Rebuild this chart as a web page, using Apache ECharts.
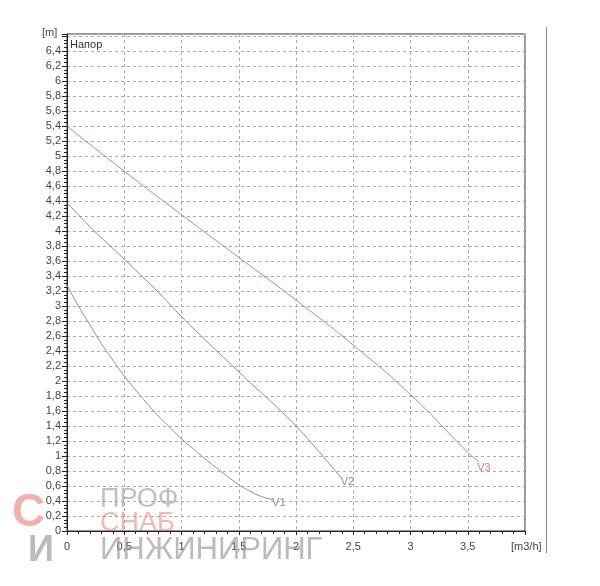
<!DOCTYPE html>
<html>
<head>
<meta charset="utf-8">
<script src="https://cdn.jsdelivr.net/npm/echarts@6/dist/echarts.min.js"></script>
<style>
html,body{margin:0;padding:0;background:#fff;}
#c{width:600px;height:586px;}
</style>
</head>
<body>
<div id="c"></div>
<script>
// Data
const v1X = [0, 0.1, 0.2, 0.3, 0.4, 0.5, 0.6, 0.7, 0.8, 0.9, 1.0, 1.1, 1.2, 1.3, 1.4, 1.5, 1.6, 1.7, 1.8];
const v1Y = [3.28, 3.0, 2.75, 2.5, 2.28, 2.07, 1.88, 1.7, 1.53, 1.38, 1.23, 1.1, 0.97, 0.85, 0.73, 0.62, 0.53, 0.46, 0.42];
const v2X = [0, 0.2, 0.4, 0.6, 0.8, 1.0, 1.2, 1.4, 1.6, 1.8, 2.0, 2.2, 2.4];
const v2Y = [4.38, 4.06, 3.77, 3.48, 3.18, 2.86, 2.56, 2.27, 1.98, 1.7, 1.4, 1.06, 0.7];
const v3X = [0, 0.5, 1.0, 1.5, 2.0, 2.5, 3.0, 3.5, 3.6];
const v3Y = [5.4, 4.8, 4.22, 3.65, 3.08, 2.48, 1.82, 1.05, 0.92];
const seriesNames = ['V1', 'V2', 'V3'];
const xTickLabels = ['0', '0,5', '1', '1,5', '2', '2,5', '3', '3,5'];
const yUnit = '[m]';
const xUnit = '[m3/h]';
const chartTitle = 'Напор';
const watermark = ['ПРОФ', 'СНАБ', 'ИНЖИНИРИНГ'];

const chart = echarts.init(document.getElementById('c'));
const font = 'Liberation Sans, Arial, sans-serif';

function mk(xs, ys, name, color, off) {
  return {
    type: 'line', name: name, smooth: true, symbol: 'none',
    lineStyle: { color: color, width: 1 },
    data: xs.map((x, i) => [x, ys[i]]),
    endLabel: { show: true, formatter: name, offset: off, color: color, fontSize: 11, fontFamily: font, distance: 0 },
    z: 3
  };
}

chart.setOption({
  animation: false,
  backgroundColor: '#fff',
  grid: { left: 67, right: 75, top: 34, bottom: 55, show: true, borderColor: '#333', borderWidth: 1, backgroundColor: 'transparent' },
  xAxis: {
    type: 'value', min: 0, max: 4, interval: 0.5,
    axisLine: { show: true, onZero: false, lineStyle: { color: '#222', width: 1 } },
    axisTick: { show: true, length: 4, lineStyle: { color: '#222' } },
    minorTick: { show: true, splitNumber: 5, length: 3, lineStyle: { color: '#222' } },
    axisLabel: { color: '#444', fontSize: 11, fontFamily: font, margin: 10, showMaxLabel: false,
      formatter: (v) => { const i = Math.round(v / 0.5); return xTickLabels[i] !== undefined ? xTickLabels[i] : ''; } },
    splitLine: { show: true, lineStyle: { color: '#aaa', type: [3, 3], width: 1 } }
  },
  yAxis: {
    type: 'value', min: 0, max: 6.63, interval: 0.2,
    axisLine: { show: true, onZero: false, lineStyle: { color: '#222', width: 1 } },
    axisTick: { show: true, length: 5, lineStyle: { color: '#222' } },
    minorTick: { show: true, splitNumber: 4, length: 3, lineStyle: { color: '#222' } },
    axisLabel: { color: '#444', fontSize: 11, fontFamily: font, margin: 6,
      formatter: (v) => v > 6.5 ? '' : String(Math.round(v * 10) / 10).replace('.', ',') },
    splitLine: { show: true, lineStyle: { color: '#aaa', type: [3, 3], width: 1 } }
  },
  series: [
    mk(v1X, v1Y, seriesNames[0], '#8c8c8c', [-1, 3]),
    mk(v2X, v2Y, seriesNames[1], '#8c8c8c', [-1, 3]),
    mk(v3X, v3Y, seriesNames[2], '#c9808f', [-2, 6])
  ],
  graphic: [
    { type: 'text', left: 42, top: 27, style: { text: yUnit, fill: '#444', font: '11px ' + font } },
    { type: 'text', left: 70, top: 39, style: { text: chartTitle, fill: '#333', font: '11px ' + font } },
    { type: 'text', left: 511, top: 541, style: { text: xUnit, fill: '#444', font: '11px ' + font } },
    { type: 'line', shape: { x1: 546.5, y1: 27, x2: 546.5, y2: 553 }, style: { stroke: '#888', lineWidth: 1 } },
    // watermark
    { type: 'text', left: 100, top: 486, z: 10, style: { text: watermark[0], fill: 'rgba(150,150,150,0.6)', font: '27px ' + font } },
    { type: 'text', left: 100, top: 510, z: 10, style: { text: watermark[1], fill: 'rgba(235,110,110,0.5)', font: '27px ' + font } },
    { type: 'text', left: 100, top: 535, z: 10, style: { text: watermark[2], fill: 'rgba(150,150,150,0.65)', font: '31px ' + font } },
    { type: 'text', left: 12, top: 490, z: 10, style: { text: 'С', fill: 'rgba(235,110,110,0.55)', font: 'bold 46px ' + font } },
    { type: 'text', left: 28, top: 533, z: 10, style: { text: 'И', fill: 'rgba(150,150,150,0.65)', font: 'bold 36px ' + font } }
  ]
});
</script>
</body>
</html>
